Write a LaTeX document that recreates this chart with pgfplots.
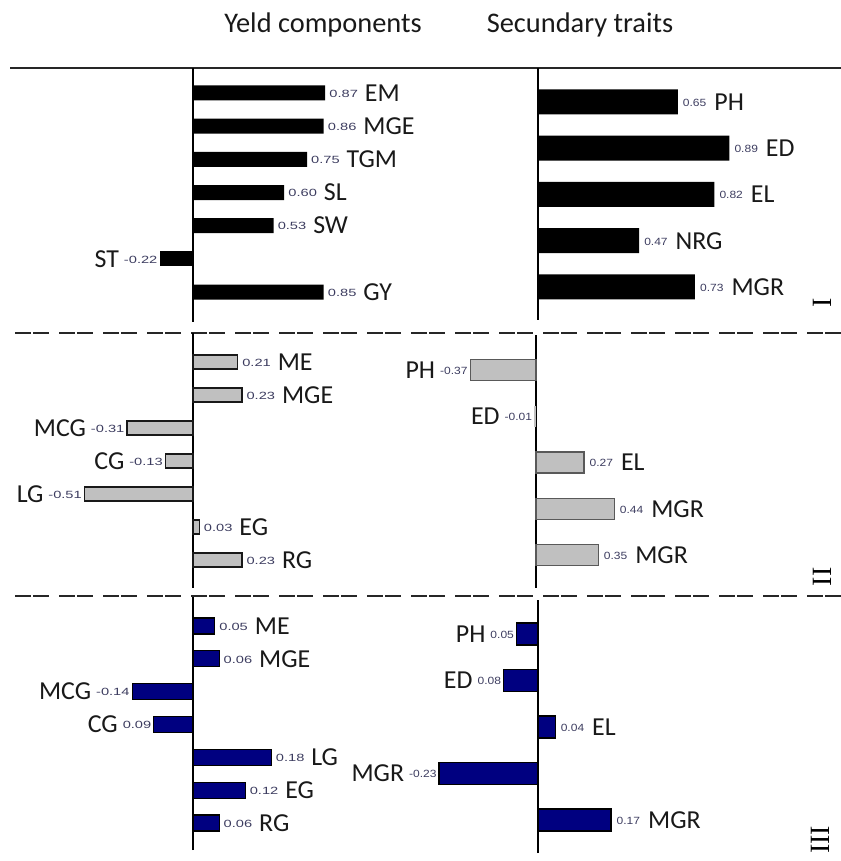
\documentclass[border=0pt]{standalone}
\usepackage{pgfplots}
\pgfplotsset{compat=1.18}
\usepackage{pgfplotstable}
\usepackage{graphicx}
\usepackage{fontspec}
\setmainfont{Carlito}
\newfontfamily\carlito{Carlito}
\newfontfamily\libsans{Liberation Sans}
\newfontfamily\libserif{Liberation Serif}
\definecolor{valc}{RGB}{60,60,95}
\definecolor{barg}{RGB}{192,192,192}
\definecolor{barn}{RGB}{0,0,128}
\newcommand\nmf{\carlito\fontsize{26}{26}\selectfont\color{black!90}}
\newcommand\vL[1]{\raisebox{4bp}{\scalebox{1.4}[1]{\libsans\fontsize{10.5}{10.5}\selectfont\color{valc}#1}}}
\newcommand\vR[1]{\raisebox{4bp}{\scalebox{1.15}[1]{\libsans\fontsize{10.5}{10.5}\selectfont\color{valc}#1}}}
\def\labPL#1/#2\relax{\vL{#1}\hspace{7bp}{\nmf #2}}
\def\labNL#1/#2\relax{{\nmf #2}\hspace{5bp}\vL{#1}}
\def\labPR#1/#2\relax{\vR{#1}\hspace{8bp}{\nmf #2}}
\def\labNR#1/#2\relax{{\nmf #2}\hspace{5bp}\vR{#1}}

% label column: shown value / category
% Panel I, yield components
\pgfplotstableread{
y x lab
-1 0.87 0.87/EM
-2 0.86 0.86/MGE
-3 0.75 0.75/TGM
-4 0.60 0.60/SL
-5 0.53 0.53/SW
-7 0.86 0.85/GY
}\Apos
\pgfplotstableread{
y x lab
-6 -0.22 -0.22/ST
}\Aneg
% Panel I, secondary traits
\pgfplotstableread{
y x lab
-1 0.65 0.65/PH
-2 0.89 0.89/ED
-3 0.82 0.82/EL
-4 0.47 0.47/NRG
-5 0.73 0.73/MGR
}\Bpos
% Panel II, yield components
\pgfplotstableread{
y x lab
-1 0.21 0.21/ME
-2 0.23 0.23/MGE
-6 0.03 0.03/EG
-7 0.23 0.23/RG
}\Cpos
\pgfplotstableread{
y x lab
-3 -0.31 -0.31/MCG
-4 -0.13 -0.13/CG
-5 -0.51 -0.51/LG
}\Cneg
% Panel II, secondary traits
\pgfplotstableread{
y x lab
-3 0.27 0.27/EL
-4 0.44 0.44/MGR
-5 0.35 0.35/MGR
}\Dpos
\pgfplotstableread{
y x lab
-1 -0.37 -0.37/PH
}\Dneg
\pgfplotstableread{
y x lab
-2 -0.01 -0.01/ED
}\Dzero
% Panel III, yield components
\pgfplotstableread{
y x lab
-1 0.05 0.05/ME
-2 0.06 0.06/MGE
-5 0.18 0.18/LG
-6 0.12 0.12/EG
-7 0.06 0.06/RG
}\Epos
\pgfplotstableread{
y x lab
-3 -0.14 -0.14/MCG
-4 -0.09 0.09/CG
}\Eneg
% Panel III, secondary traits
\pgfplotstableread{
y x lab
-3 0.04 0.04/EL
-5 0.17 0.17/MGR
}\Fpos
\pgfplotstableread{
y x lab
-1 -0.05 0.05/PH
-2 -0.08 0.08/ED
-4 -0.23 -0.23/MGR
}\Fneg

\pgfplotsset{
  panel/.style={xbar, scale only axis, hide axis, clip=false, bar shift=0pt},
  posL/.style={point meta=explicit symbolic,
    nodes near coords={\expandafter\labPL\pgfplotspointmeta\relax},
    every node near coord/.append style={anchor=west, inner sep=0pt, xshift=4bp}},
  negL/.style={point meta=explicit symbolic,
    nodes near coords={\expandafter\labNL\pgfplotspointmeta\relax},
    every node near coord/.append style={anchor=east, inner sep=0pt, xshift=-2bp}},
  posR/.style={point meta=explicit symbolic,
    nodes near coords={\expandafter\labPR\pgfplotspointmeta\relax},
    every node near coord/.append style={anchor=west, inner sep=0pt, xshift=5bp}},
  negR/.style={point meta=explicit symbolic,
    nodes near coords={\expandafter\labNR\pgfplotspointmeta\relax},
    every node near coord/.append style={anchor=east, inner sep=0pt, xshift=-2bp}},
}

\begin{document}
\begin{tikzpicture}
\path[use as bounding box] (0bp,0bp) rectangle (841bp,861bp);

% titles
\node at (323bp,836bp) {\carlito\fontsize{28.5}{28.5}\selectfont\color{black!90} Yeld components};
\node at (580bp,836bp) {\carlito\fontsize{28.5}{28.5}\selectfont\color{black!90} Secundary traits};

% separators
\draw[line width=1.5bp, black!85] (10bp,793bp) -- (841bp,793bp);
\draw[line width=1.5bp, black!85, dash pattern=on 16bp off 2bp on 16bp off 10bp] (15bp,528bp) -- (841bp,528bp);
\draw[line width=1.5bp, black!85, dash pattern=on 16bp off 2bp on 16bp off 10bp] (15bp,265bp) -- (841bp,265bp);

% panel numbers
\node[rotate=90] at (822bp,558bp) {\libserif\fontsize{28}{28}\selectfont I};
\node[rotate=90] at (822bp,284bp) {\libserif\fontsize{28}{28}\selectfont II};
\node[rotate=90] at (820bp,21bp) {\libserif\fontsize{28}{28}\selectfont III};

% ---------- Panel I left
\begin{axis}[panel, at={(0bp,539bp)}, anchor=south west, width=420bp, height=254bp,
  xmin=-1.2697, xmax=1.4934, ymin=-7.9038, ymax=-0.2463]
\draw[line width=1.5bp] (axis cs:0,-7.9038) -- (axis cs:0,-0.2463);
\addplot[fill=black, draw=none, bar width=15bp, posL] table[x=x,y=y,meta=lab]{\Apos};
\addplot[fill=black, draw=none, bar width=15bp, negL] table[x=x,y=y,meta=lab]{\Aneg};
\end{axis}

% ---------- Panel I right
\begin{axis}[panel, at={(420bp,541bp)}, anchor=south west, width=421bp, height=252bp,
  xmin=-0.5488, xmax=1.4093, ymin=-5.7135, ymax=-0.2649]
\draw[line width=1.5bp] (axis cs:0,-5.7135) -- (axis cs:0,-0.2649);
\addplot[fill=black, draw=none, bar width=25bp, posR] table[x=x,y=y,meta=lab]{\Bpos};
\end{axis}

% ---------- Panel II left
\begin{axis}[panel, at={(0bp,273bp)}, anchor=south west, width=420bp, height=255bp,
  xmin=-0.9061, xmax=1.0657, ymin=-7.8485, ymax=-0.1212]
\draw[line width=1.5bp] (axis cs:0,-7.8485) -- (axis cs:0,-0.1212);
\addplot[fill=barg, draw=black!90, line width=1.2bp, bar width=14bp, posL] table[x=x,y=y,meta=lab]{\Cpos};
\addplot[fill=barg, draw=black!90, line width=1.2bp, bar width=14bp, negL] table[x=x,y=y,meta=lab]{\Cneg};
\end{axis}

% ---------- Panel II right
\begin{axis}[panel, at={(420bp,273bp)}, anchor=south west, width=421bp, height=253bp,
  xmin=-0.6517, xmax=1.7135, ymin=-5.7135, ymax=-0.2432]
\draw[line width=1.5bp] (axis cs:0,-5.7135) -- (axis cs:0,-0.2432);
\addplot[fill=barg, draw=black!65, line width=1.2bp, bar width=21bp, posR] table[x=x,y=y,meta=lab]{\Dpos};
\addplot[fill=barg, draw=black!65, line width=1.2bp, bar width=21bp, negR] table[x=x,y=y,meta=lab]{\Dneg};
\addplot[fill=barg, draw=none, bar width=21bp, negR] table[x=x,y=y,meta=lab]{\Dzero};
\end{axis}

% ---------- Panel III left
\begin{axis}[panel, at={(0bp,11bp)}, anchor=south west, width=420bp, height=253bp,
  xmin=-0.4437, xmax=0.5218, ymin=-7.8230, ymax=-0.1167]
\draw[line width=1.5bp] (axis cs:0,-7.8230) -- (axis cs:0,-0.1167);
\addplot[fill=barn, draw=black, line width=1.2bp, bar width=16bp, posL] table[x=x,y=y,meta=lab]{\Epos};
\addplot[fill=barn, draw=black, line width=1.2bp, bar width=16bp, negL] table[x=x,y=y,meta=lab]{\Eneg};
\end{axis}

% ---------- Panel III right
\begin{axis}[panel, at={(420bp,8bp)}, anchor=south west, width=421bp, height=253bp,
  xmin=-0.2744, xmax=0.7047, ymin=-5.7097, ymax=-0.2688]
\draw[line width=1.5bp] (axis cs:0,-5.7097) -- (axis cs:0,-0.2688);
\addplot[fill=barn, draw=black, line width=1.2bp, bar width=22bp, posR] table[x=x,y=y,meta=lab]{\Fpos};
\addplot[fill=barn, draw=black, line width=1.2bp, bar width=22bp, negR] table[x=x,y=y,meta=lab]{\Fneg};
\end{axis}
\end{tikzpicture}
\end{document}
